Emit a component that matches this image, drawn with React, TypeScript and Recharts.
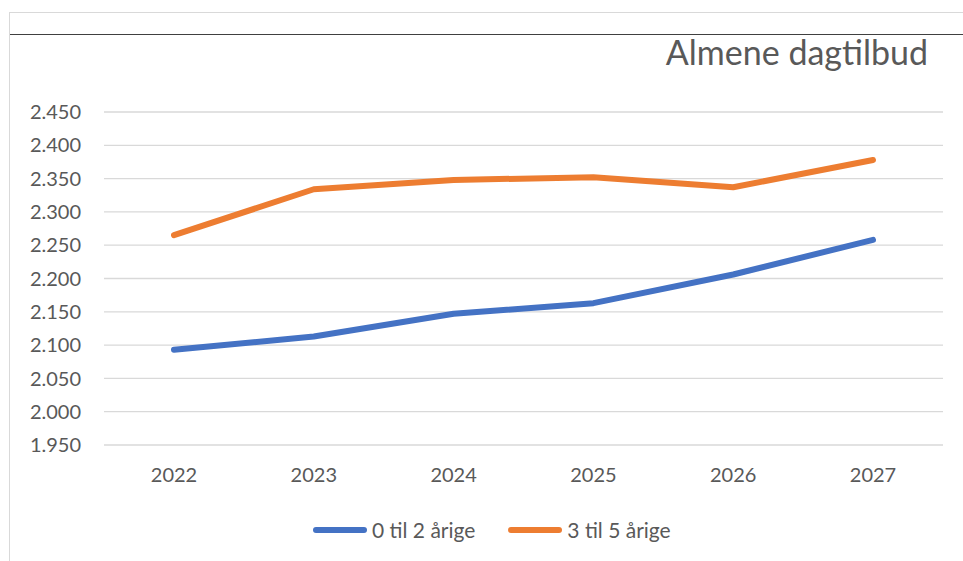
import * as React from 'react';
import { LineChart, Line, XAxis, YAxis, CartesianGrid, Legend } from 'recharts';

const years = ['2022', '2023', '2024', '2025', '2026', '2027'];
const toddlers = [2093, 2113, 2147, 2163, 2206, 2258];
const preschool = [2265, 2334, 2348, 2352, 2337, 2378];
const yTicks = [1950, 2000, 2050, 2100, 2150, 2200, 2250, 2300, 2350, 2400, 2450];
const seriesNames = ['0 til 2 årige', '3 til 5 årige'];

const FONT = 'Lato, "Open Sans", sans-serif';
const TEXT = '#595959';

const fmt = (v: number) => `${Math.floor(v / 1000)}.${String(v % 1000).padStart(3, '0')}`;

function LegendBox({ payload }: any) {
  return (
    <div style={{ display: 'flex', alignItems: 'center', fontFamily: FONT, fontSize: 21, color: TEXT, lineHeight: '24px' }}>
      {(payload || []).map((p: any, i: number) => (
        <div key={String(i)} style={{ display: 'flex', alignItems: 'center', marginRight: 33 }}>
          <span style={{ display: 'inline-block', width: 54, height: 6, borderRadius: 3, background: p.color, marginRight: 5 }} />
          <span>{p.value}</span>
        </div>
      ))}
    </div>
  );
}

export default function App() {
  const data = React.useMemo(() => years.map((y, i) => ({ year: y, a: toddlers[i], b: preschool[i] })), []);
  return (
    <div style={{ position: 'absolute', left: 0, top: 0, width: 963, height: 561, background: '#fff', overflow: 'hidden' }}>
      <div style={{ position: 'absolute', left: 10, top: 12, right: 0, height: 0, borderTop: '1.5px solid #d9d9d9' }} />
      <div style={{ position: 'absolute', left: 9, top: 12, bottom: 0, width: 0, borderLeft: '1.5px solid #d9d9d9' }} />
      <div style={{ position: 'absolute', left: 10, top: 34, right: 0, height: 0, borderTop: '1.5px solid #404040' }} />
      <div style={{ position: 'absolute', right: 963 - 928, top: 35, fontFamily: FONT, fontSize: 34, lineHeight: '34px', color: TEXT, whiteSpace: 'nowrap' }}>
        Almene dagtilbud
      </div>
      <LineChart width={963} height={561} data={data} margin={{ top: 112, right: 20, left: 0, bottom: 66 }}>
        <CartesianGrid vertical={false} stroke="#d9d9d9" strokeWidth={1.3} />
        <XAxis dataKey="year" axisLine={false} tickLine={false} tickSize={0} tickMargin={23} height={50}
          padding={{ left: 70, right: 70 }} tick={{ fill: TEXT, fontSize: 20, fontFamily: FONT }} />
        <YAxis domain={[1950, 2450]} ticks={yTicks} interval={0} tickFormatter={fmt} axisLine={false} tickLine={false}
          tickSize={0} tickMargin={23} width={104} tick={{ fill: TEXT, fontSize: 20, fontFamily: FONT }} />
        <Legend layout="horizontal" verticalAlign="middle" align="center" content={<LegendBox />}
          wrapperStyle={{ top: 518, left: 313, width: 500 }} />
        <Line type="linear" dataKey="a" name={seriesNames[0]} stroke="#4472C4" strokeWidth={6} strokeLinecap="round"
          strokeLinejoin="round" dot={false} activeDot={false} isAnimationActive={false} />
        <Line type="linear" dataKey="b" name={seriesNames[1]} stroke="#ED7D31" strokeWidth={6} strokeLinecap="round"
          strokeLinejoin="round" dot={false} activeDot={false} isAnimationActive={false} />
      </LineChart>
    </div>
  );
}
